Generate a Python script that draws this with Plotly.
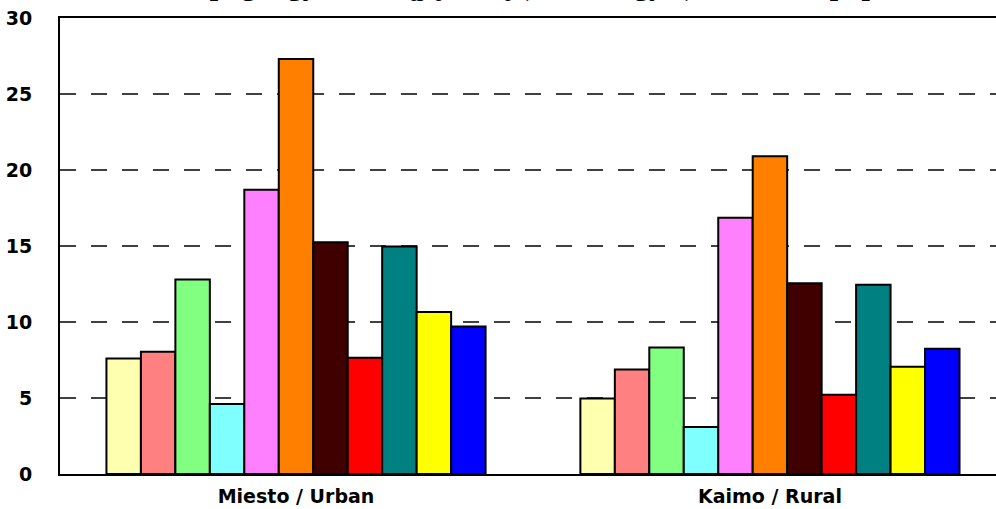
import plotly.graph_objects as go

categories = ["Miesto / Urban", "Kaimo / Rural"]
series_names = ["Grupė 1", "Grupė 2", "Grupė 3", "Grupė 4", "Grupė 5", "Grupė 6",
                "Grupė 7", "Grupė 8", "Grupė 9", "Grupė 10", "Grupė 11"]
urban = [7.6, 8.05, 12.8, 4.6, 18.7, 27.3, 15.25, 7.65, 14.97, 10.65, 9.7]
rural = [4.97, 6.88, 8.33, 3.1, 16.86, 20.9, 12.55, 5.22, 12.45, 7.06, 8.24]
colors = ["#FFFFB0", "#FF8080", "#80FF80", "#80FFFF", "#FF80FF", "#FF8000",
          "#400000", "#FF0000", "#008080", "#FFFF00", "#0000FF"]
y_ticks = [0, 5, 10, 15, 20, 25, 30]
title_text = "Rodikliai pagal gyvenamąją vietą (100 000 gyv.) – 100 000 population"

fig = go.Figure()
for i, name in enumerate(series_names):
    fig.add_trace(go.Bar(
        x=categories, y=[urban[i], rural[i]], name=name,
        marker=dict(color=colors[i], line=dict(color="black", width=2)),
    ))

fig.update_layout(
    width=996, height=509,
    margin=dict(l=60, r=0, t=18, b=35),
    barmode="group", bargap=0.2, bargroupgap=0,
    showlegend=False,
    plot_bgcolor="white", paper_bgcolor="white",
    font=dict(family="DejaVu Sans", color="black"),
)
fig.update_xaxes(
    type="category", range=[-0.498, 1.477],
    showline=True, linecolor="black", linewidth=2, mirror=True,
    showgrid=False, ticks="", ticklabelstandoff=4,
    tickfont=dict(size=19, family="DejaVu Sans", weight="bold"),
)
fig.update_yaxes(
    range=[0, 30], tickvals=y_ticks, ticktext=[str(v) for v in y_ticks],
    showline=True, linecolor="black", linewidth=2,
    showgrid=True, gridcolor="#404040", gridwidth=1.5, griddash="16px,15px",
    zeroline=False, ticks="", ticklabelstandoff=22, ticklabeloverflow="allow",
    tickfont=dict(size=19, family="DejaVu Sans", weight="bold"),
)
fig.add_annotation(
    text="<b>" + title_text + "</b>", xref="paper", yref="paper",
    x=0.498, y=1, xanchor="center", yanchor="bottom", yshift=14, showarrow=False,
    font=dict(family="Liberation Serif, Times New Roman", size=30, color="black"),
)
fig.write_html("out.html", config={"displayModeBar": False},
               post_script="document.body.style.margin='0';")
